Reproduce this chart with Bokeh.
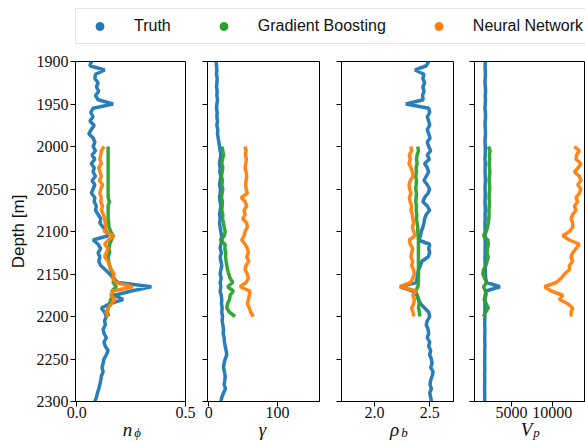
import numpy as np
from bokeh.plotting import figure
from bokeh.layouts import column, row
from bokeh.models import Legend, LegendItem, Label, FixedTicker, PrintfTickFormatter, Range1d
from bokeh.embed import file_html
from bokeh.resources import INLINE

# ---------------- data ----------------
depth_truth = np.arange(1900, 2301, 5)
depth_pred = np.arange(2000, 2201, 5)

truth_nphi = [
    0.067, 0.060, 0.128, 0.086, 0.083, 0.098, 0.090, 0.101, 0.086, 0.098,
    0.167, 0.075, 0.064, 0.075, 0.060, 0.080, 0.067, 0.055, 0.075, 0.083,
    0.075, 0.086, 0.070, 0.083, 0.067, 0.080, 0.075, 0.086, 0.070, 0.083,
    0.075, 0.067, 0.083, 0.080, 0.090, 0.086, 0.098, 0.110, 0.106, 0.121,
    0.136, 0.144, 0.075, 0.098, 0.110, 0.098, 0.106, 0.101, 0.110, 0.131,
    0.151, 0.167, 0.190, 0.343, 0.251, 0.174, 0.213, 0.151, 0.113, 0.128,
    0.136, 0.128, 0.131, 0.121, 0.125, 0.136, 0.125, 0.131, 0.144, 0.136,
    0.125, 0.121, 0.116, 0.121, 0.113, 0.110, 0.106, 0.101, 0.095, 0.090,
    0.083]
gb_nphi = [
    0.144, 0.144, 0.144, 0.144, 0.144, 0.144, 0.144, 0.144, 0.144, 0.144,
    0.144, 0.144, 0.144, 0.150, 0.144, 0.144, 0.144, 0.144, 0.147, 0.148,
    0.156, 0.167, 0.159, 0.151, 0.148, 0.151, 0.144, 0.147, 0.151, 0.156,
    0.162, 0.171, 0.167, 0.182, 0.162, 0.167, 0.156, 0.151, 0.144, 0.141,
    0.147]
nn_nphi = [
    0.125, 0.113, 0.110, 0.106, 0.113, 0.101, 0.107, 0.113, 0.104, 0.119,
    0.110, 0.106, 0.113, 0.110, 0.118, 0.113, 0.122, 0.128, 0.131, 0.136,
    0.125, 0.171, 0.144, 0.128, 0.144, 0.136, 0.128, 0.144, 0.150, 0.159,
    0.171, 0.165, 0.180, 0.258, 0.167, 0.156, 0.177, 0.159, 0.144, 0.135,
    0.144]

truth_gamma = [
    10.6, 11.1, 11.6, 11.1, 12.1, 11.6, 11.1, 12.1, 11.6, 12.6,
    11.6, 11.1, 12.1, 11.6, 12.6, 11.6, 13.0, 12.6, 13.5, 14.5,
    15.5, 16.4, 17.4, 16.4, 15.5, 16.4, 15.9, 17.4, 16.4, 15.5,
    16.9, 16.4, 15.5, 16.4, 17.4, 16.4, 15.5, 16.4, 15.5, 16.4,
    17.4, 18.4, 19.3, 17.4, 16.4, 18.4, 16.4, 17.4, 18.8, 17.4,
    16.4, 17.9, 16.4, 17.4, 16.4, 17.9, 18.8, 18.4, 19.3, 18.8,
    19.8, 19.3, 20.3, 21.3, 20.8, 22.2, 22.7, 23.7, 25.1, 26.1,
    23.7, 22.2, 21.3, 22.7, 23.7, 23.2, 22.2, 24.2, 21.3, 18.8,
    17.4]
gb_gamma = [
    18.8, 20.3, 21.3, 19.8, 18.8, 20.3, 19.3, 18.4, 19.8, 18.8,
    20.3, 19.3, 18.4, 19.8, 19.3, 18.8, 20.3, 19.8, 21.3, 22.2,
    23.7, 22.7, 16.4, 23.7, 23.2, 24.6, 24.2, 25.1, 26.1, 27.1,
    29.0, 30.9, 34.8, 27.1, 35.7, 30.9, 30.0, 27.1, 26.1, 30.0,
    38.2]
nn_gamma = [
    52.7, 54.1, 53.1, 54.6, 53.6, 52.7, 54.1, 55.1, 54.1, 53.6,
    54.1, 56.0, 47.3, 52.7, 55.1, 51.2, 52.7, 49.3, 55.1, 56.0,
    52.7, 51.2, 47.8, 52.7, 56.0, 57.5, 55.1, 58.0, 54.1, 52.7,
    56.0, 57.5, 54.1, 45.4, 59.9, 58.9, 57.5, 56.0, 58.9, 60.9,
    64.7]

truth_rho = [
    2.491, 2.469, 2.367, 2.448, 2.438, 2.454, 2.438, 2.448, 2.435, 2.441,
    2.284, 2.491, 2.500, 2.478, 2.491, 2.500, 2.478, 2.491, 2.503, 2.478,
    2.491, 2.509, 2.478, 2.497, 2.454, 2.478, 2.491, 2.469, 2.448, 2.478,
    2.500, 2.485, 2.454, 2.438, 2.478, 2.500, 2.469, 2.454, 2.448, 2.438,
    2.423, 2.417, 2.398, 2.500, 2.491, 2.500, 2.485, 2.429, 2.417, 2.398,
    2.392, 2.386, 2.377, 2.231, 2.346, 2.386, 2.398, 2.417, 2.454, 2.491,
    2.500, 2.478, 2.469, 2.485, 2.491, 2.478, 2.500, 2.491, 2.509, 2.500,
    2.515, 2.522, 2.509, 2.531, 2.522, 2.509, 2.503, 2.515, 2.500, 2.509,
    2.515]
gb_rho = [
    2.392, 2.398, 2.386, 2.380, 2.386, 2.377, 2.380, 2.373, 2.380, 2.377,
    2.373, 2.380, 2.377, 2.373, 2.380, 2.377, 2.383, 2.380, 2.386, 2.392,
    2.392, 2.395, 2.398, 2.398, 2.398, 2.398, 2.398, 2.398, 2.398, 2.398,
    2.398, 2.398, 2.398, 2.392, 2.373, 2.386, 2.398, 2.404, 2.398, 2.407,
    2.410]
nn_rho = [
    2.330, 2.336, 2.315, 2.324, 2.312, 2.330, 2.343, 2.349, 2.324, 2.312,
    2.318, 2.330, 2.315, 2.324, 2.336, 2.330, 2.343, 2.346, 2.355, 2.343,
    2.355, 2.367, 2.315, 2.324, 2.346, 2.336, 2.330, 2.346, 2.336, 2.355,
    2.361, 2.346, 2.330, 2.231, 2.377, 2.346, 2.361, 2.355, 2.336, 2.349,
    2.355]

truth_vp = [
    1790, 1750, 1770, 1800, 1760, 1740, 1780, 1820, 1760, 1800,
    1770, 1740, 1790, 1810, 1760, 1750, 1780, 1800, 1760, 1740,
    1770, 1790, 1760, 1740, 1780, 1760, 1750, 1770, 1790, 1760,
    1750, 1770, 1760, 1740, 1760, 1780, 1750, 1760, 1740, 1750,
    1760, 1740, 1750, 1770, 1750, 1760, 1740, 1750, 1760, 1780,
    1800, 1820, 1950, 3580, 1870, 1760, 1740, 1730, 1740, 1720,
    1730, 1720, 1710, 1730, 1720, 1710, 1720, 1730, 1710, 1720,
    1710, 1700, 1720, 1710, 1700, 1710, 1700, 1690, 1700, 1710,
    1700]
gb_vp = [
    2160, 2360, 2280, 2320, 2250, 2300, 2340, 2280, 2250, 2300,
    2320, 2270, 2240, 2290, 2260, 2220, 2250, 2200, 2150, 2050,
    1900, 1550, 2100, 2150, 2050, 1980, 2150, 2000, 1850, 1550,
    1470, 1700, 1950, 1550, 1800, 1870, 1630, 1900, 2150, 1800,
    1550]
nn_vp = [
    12730, 13340, 13000, 12930, 13540, 13200, 12730, 13340, 13540, 13140,
    13540, 13340, 12930, 13140, 12730, 12930, 12530, 12330, 12530, 12530,
    12120, 11310, 12120, 13340, 12930, 12530, 12330, 12530, 12120, 12120,
    11510, 11100, 10500, 9070, 9880, 11310, 10900, 11920, 12530, 12330,
    12330]

depth_ticks = [1900, 1950, 2000, 2050, 2100, 2150, 2200, 2250, 2300]
series_names = ["Truth", "Gradient Boosting", "Neural Network"]
colors = ["#1f77b4", "#2ca02c", "#ff7f0e"]

SERIF = "Liberation Serif"
SANS = "Liberation Sans"

y_range = Range1d(2300, 1900)

panels = [
    dict(truth=truth_nphi, gb=gb_nphi, nn=nn_nphi, xr=(-0.006, 0.5), ticks=[0.0, 0.5], fmt="%.1f",
         left=75, fw=110, right=11),
    dict(truth=truth_gamma, gb=gb_gamma, nn=nn_gamma, xr=(-2, 161), ticks=[0, 100], fmt="%d",
         left=11, fw=112, right=11),
    dict(truth=truth_rho, gb=gb_rho, nn=nn_rho, xr=(1.70, 2.716), ticks=[2.0, 2.5], fmt="%.1f",
         left=11, fw=112, right=10),
    dict(truth=truth_vp, gb=gb_vp, nn=nn_vp, xr=(450, 14100), ticks=[5000, 10000], fmt="%d",
         left=11, fw=111, right=0),
]
# x-axis symbols: (main, subscript, centre x in page pixels)
axis_symbols = [("n", "\u03d5", 130), ("\u03b3", "", 262), ("\u03c1", "b", 397), ("V", "p", 529)]

figs = []
for i, pd_ in enumerate(panels):
    p = figure(frame_width=pd_["fw"], frame_height=340, y_range=y_range,
               x_range=Range1d(*pd_["xr"]), output_backend="svg", toolbar_location=None,
               min_border_left=pd_["left"], min_border_right=pd_["right"],
               min_border_top=10, min_border_bottom=32)
    p.grid.visible = False
    p.outline_line_color = "black"
    p.outline_line_width = 1
    p.background_fill_color = "white"
    p.border_fill_color = "white"
    for ax in (p.xaxis[0], p.yaxis[0]):
        ax.axis_line_color = "black"
        ax.major_tick_line_color = "black"
        ax.major_tick_in = 0
        ax.major_tick_out = 5
        ax.minor_tick_line_color = None
        ax.major_label_text_font = SERIF
        ax.major_label_text_font_size = "16px"
        ax.major_label_text_color = "#111111"
        ax.major_label_standoff = 2
    p.xaxis.major_label_standoff = 0
    p.xaxis.ticker = FixedTicker(ticks=pd_["ticks"])
    p.xaxis.formatter = PrintfTickFormatter(format=pd_["fmt"])
    p.yaxis.ticker = FixedTicker(ticks=depth_ticks)
    if i == 0:
        p.yaxis.axis_label = "Depth [m]"
        p.yaxis.axis_label_text_font = SANS
        p.yaxis.axis_label_text_font_size = "17px"
        p.yaxis.axis_label_text_font_style = "normal"
        p.yaxis.axis_label_text_color = "#111111"
        p.yaxis.axis_label_standoff = 6
    else:
        p.yaxis.major_label_overrides = {t: "" for t in depth_ticks}
        p.yaxis.major_label_standoff = 0

    p.line(pd_["truth"], depth_truth, line_color=colors[0], line_width=3.5, line_alpha=0.95)
    p.line(pd_["gb"], depth_pred, line_color=colors[1], line_width=3.5, line_alpha=0.95)
    p.line(pd_["nn"], depth_pred, line_color=colors[2], line_width=3.5, line_alpha=0.95)
    figs.append(p)

# legend strip (top)
lf = figure(width=585, height=51, output_backend="svg", toolbar_location=None,
            min_border=0, x_range=Range1d(0, 1), y_range=Range1d(0, 1))
lf.axis.visible = False
lf.grid.visible = False
lf.outline_line_color = None
items = []
for name, c in zip(series_names, colors):
    r = lf.scatter([5], [5], marker="circle", size=7, fill_color=c, line_color=c)
    items.append(LegendItem(label=name, renderers=[r]))
leg = Legend(items=items, orientation="horizontal", location=(75, 7), margin=0,
             spacing=36, glyph_width=33, glyph_height=20, label_height=20,
             label_standoff=18, padding=7,
             label_text_font=SANS, label_text_font_size="16px", label_text_color="#111111",
             border_line_color="#cccccc", border_line_width=1, background_fill_alpha=1.0)
lf.add_layout(leg)

# transparent strip for the x-axis symbols, pulled up over the bottom border of the panels
bf = figure(width=585, height=33, output_backend="svg", toolbar_location=None,
            min_border=0, x_range=Range1d(0, 585), y_range=Range1d(0, 33))
bf.axis.visible = False
bf.grid.visible = False
bf.outline_line_color = None
bf.background_fill_alpha = 0
bf.border_fill_alpha = 0
bf.margin = (-25, 0, 0, 0)
for main, sub, xc in axis_symbols:
    bf.add_layout(Label(x=xc - (3 if sub else 0), y=12, text=main, text_align="center",
                        text_baseline="alphabetic", text_font=SERIF, text_font_style="italic",
                        text_font_size="19px", text_color="#111111"))
    if sub:
        bf.add_layout(Label(x=xc + 7, y=9, text=sub, text_align="center",
                            text_baseline="alphabetic", text_font=SERIF, text_font_style="italic",
                            text_font_size="13px", text_color="#111111"))

layout = column(lf, row(*figs, spacing=0), bf, spacing=0)
open("out.html", "w").write(file_html(layout, INLINE))
